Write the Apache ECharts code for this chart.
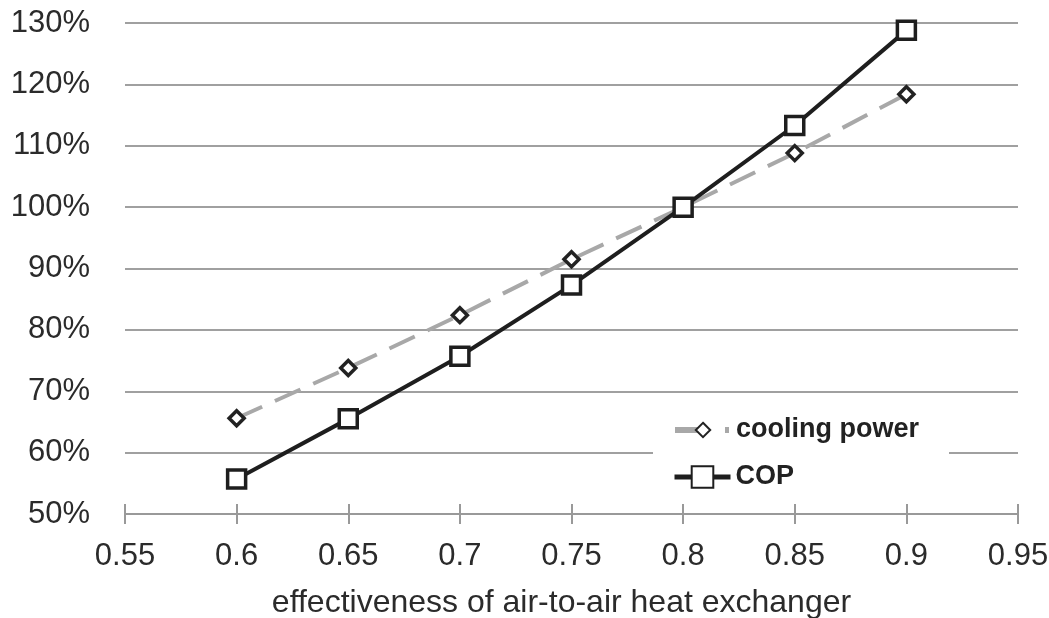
<!DOCTYPE html>
<html>
<head>
<meta charset="utf-8">
<script src="https://cdn.jsdelivr.net/npm/echarts@6/dist/echarts.min.js"></script>
<style>
  html, body { margin: 0; padding: 0; background: #fff; }
  #chart { width: 1049px; height: 618px; }
</style>
</head>
<body>
<div id="chart"></div>
<script>
const effectiveness = [0.6, 0.65, 0.7, 0.75, 0.8, 0.85, 0.9];
const coolingPower = [65.6, 73.8, 82.4, 91.5, 100, 108.8, 118.4];
const cop = [55.7, 65.5, 75.7, 87.3, 100, 113.3, 128.8];

const FONT = 'Liberation Sans, Arial, sans-serif';
const LABEL_COLOR = '#2b2b2b';

const pairs = (xs, ys) => xs.map((x, i) => [x, ys[i]]);

const xFormat = v => parseFloat(v.toFixed(2)).toString();

const LEGEND_COMMON = {
    orient: 'vertical',
    left: 653,
    backgroundColor: '#fff',
    itemWidth: 56,
    itemGap: 0,
    textStyle: {
        color: '#222',
        fontSize: 27,
        fontWeight: 'bold',
        fontFamily: FONT,
        lineHeight: 30
    }
};

const chart = echarts.init(document.getElementById('chart'), null, { renderer: 'canvas' });

chart.setOption({
    animation: false,
    backgroundColor: '#fff',
    grid: {
        left: 125,
        right: 31,
        top: 23,
        bottom: 104,
        containLabel: false,
        outerBoundsMode: 'none'
    },
    xAxis: [
        {
            type: 'value',
            min: 0.55,
            max: 0.95,
            interval: 0.05,
            name: 'effectiveness of air-to-air heat exchanger',
            nameLocation: 'middle',
            nameGap: 73,
            nameTextStyle: {
                color: LABEL_COLOR,
                fontSize: 32,
                fontFamily: FONT,
                padding: [0, 20, 0, 0]
            },
            axisLine: { show: true, lineStyle: { color: '#999', width: 2 } },
            axisTick: { show: true, length: 10, lineStyle: { color: '#999', width: 2 } },
            axisLabel: {
                color: LABEL_COLOR,
                fontSize: 31,
                fontFamily: FONT,
                margin: 27,
                formatter: xFormat
            },
            splitLine: { show: false }
        },
        {
            // second axis only to draw the upper half of the crossing ticks
            type: 'value',
            position: 'bottom',
            min: 0.55,
            max: 0.95,
            interval: 0.05,
            axisLine: { show: false },
            axisTick: { show: true, inside: true, length: 10, lineStyle: { color: '#999', width: 2 } },
            axisLabel: { show: false },
            splitLine: { show: false }
        }
    ],
    yAxis: {
        type: 'value',
        min: 50,
        max: 130,
        interval: 10,
        axisLine: { show: false },
        axisTick: { show: false },
        axisLabel: {
            color: LABEL_COLOR,
            fontSize: 31,
            fontFamily: FONT,
            margin: 35,
            formatter: '{value}%'
        },
        splitLine: { show: true, lineStyle: { color: '#a0a0a0', width: 2 } }
    },
    legend: [
        {
            ...LEGEND_COMMON,
            top: 409,
            padding: [6, 27, 6, 19],
            itemHeight: 18,
            data: [{
                name: 'cooling power',
                lineStyle: { width: 6, type: [27, 23, 4, 10] }
            }]
        },
        {
            ...LEGEND_COMMON,
            top: 450,
            padding: [12, 155, 6, 19],
            itemHeight: 27,
            data: [{
                name: 'COP',
                lineStyle: { width: 5 }
            }]
        }
    ],
    series: [
        {
            name: 'cooling power',
            type: 'line',
            z: 2,
            data: pairs(effectiveness, coolingPower),
            lineStyle: { color: '#a8a8a8', width: 4, type: [28, 14] },
            symbol: 'diamond',
            symbolSize: 15,
            itemStyle: { color: '#fff', borderColor: '#222', borderWidth: 3.5 }
        },
        {
            name: 'COP',
            type: 'line',
            z: 3,
            data: pairs(effectiveness, cop),
            lineStyle: { color: '#1e1e1e', width: 4 },
            symbol: 'rect',
            symbolSize: 18,
            itemStyle: { color: '#fff', borderColor: '#1e1e1e', borderWidth: 3.5 }
        }
    ]
});
</script>
</body>
</html>
